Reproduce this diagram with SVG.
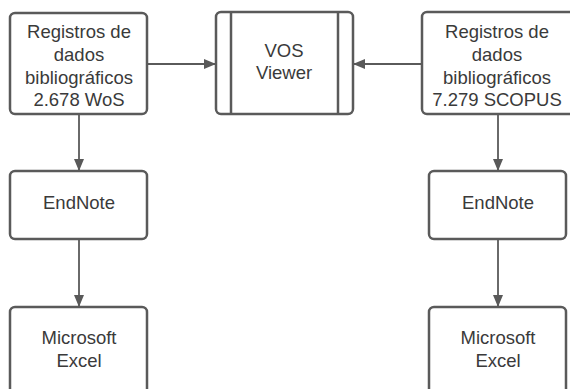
<svg xmlns="http://www.w3.org/2000/svg" width="570" height="389" viewBox="0 0 570 389">
<defs>
<marker id="ah" markerWidth="12" markerHeight="12" viewBox="0 0 12 12" refX="12" refY="6" orient="auto" markerUnits="userSpaceOnUse">
<path d="M0,1 L12,6 L0,11 Z" fill="#595959"/>
</marker>
<style>
.box{fill:#fff;stroke:#5a5a5a;stroke-width:2.5}
.ln{stroke:#5a5a5a;stroke-width:1.8;fill:none}
.t{font-family:"Liberation Sans",Arial,sans-serif;font-size:18.5px;fill:#3a3a3a;text-anchor:middle}
</style>
</defs>
<rect width="570" height="389" fill="#fff"/>
<g id="connectors">
<line class="ln" x1="147" y1="64" x2="216" y2="64" marker-end="url(#ah)"/>
<line class="ln" x1="422" y1="64" x2="353" y2="64" marker-end="url(#ah)"/>
<line class="ln" x1="79" y1="114" x2="79" y2="171" marker-end="url(#ah)"/>
<line class="ln" x1="79" y1="239" x2="79" y2="307" marker-end="url(#ah)"/>
<line class="ln" x1="498" y1="114" x2="498" y2="171" marker-end="url(#ah)"/>
<line class="ln" x1="498" y1="239" x2="498" y2="307" marker-end="url(#ah)"/>
</g>
<g id="wos">
<rect class="box" x="10" y="13" width="137" height="101" rx="5"/>
<text class="t" x="79" y="38">Registros de</text>
<text class="t" x="79" y="61">dados</text>
<text class="t" x="79" y="83.5">bibliográficos</text>
<text class="t" x="79" y="106">2.678 WoS</text>
</g>
<g id="vos">
<rect class="box" x="216" y="12" width="137" height="102" rx="5"/>
<line class="ln" x1="231" y1="12" x2="231" y2="114" style="stroke-width:2.5"/>
<line class="ln" x1="338" y1="12" x2="338" y2="114" style="stroke-width:2.5"/>
<text class="t" x="284" y="57">VOS</text>
<text class="t" x="284" y="79">Viewer</text>
</g>
<g id="scopus">
<rect class="box" x="422" y="12" width="155" height="102" rx="5"/>
<text class="t" x="497" y="38">Registros de</text>
<text class="t" x="497" y="61">dados</text>
<text class="t" x="497" y="83.5">bibliográficos</text>
<text class="t" x="497" y="106">7.279 SCOPUS</text>
</g>
<g id="endnote1">
<rect class="box" x="10" y="171" width="137" height="68" rx="5"/>
<text class="t" x="79" y="209">EndNote</text>
</g>
<g id="endnote2">
<rect class="box" x="429" y="171" width="137" height="68" rx="5"/>
<text class="t" x="498" y="209">EndNote</text>
</g>
<g id="excel1">
<rect class="box" x="10" y="307" width="137" height="100" rx="5"/>
<text class="t" x="79" y="344">Microsoft</text>
<text class="t" x="79" y="367">Excel</text>
</g>
<g id="excel2">
<rect class="box" x="429" y="307" width="137" height="100" rx="5"/>
<text class="t" x="498" y="344">Microsoft</text>
<text class="t" x="498" y="367">Excel</text>
</g>
</svg>
